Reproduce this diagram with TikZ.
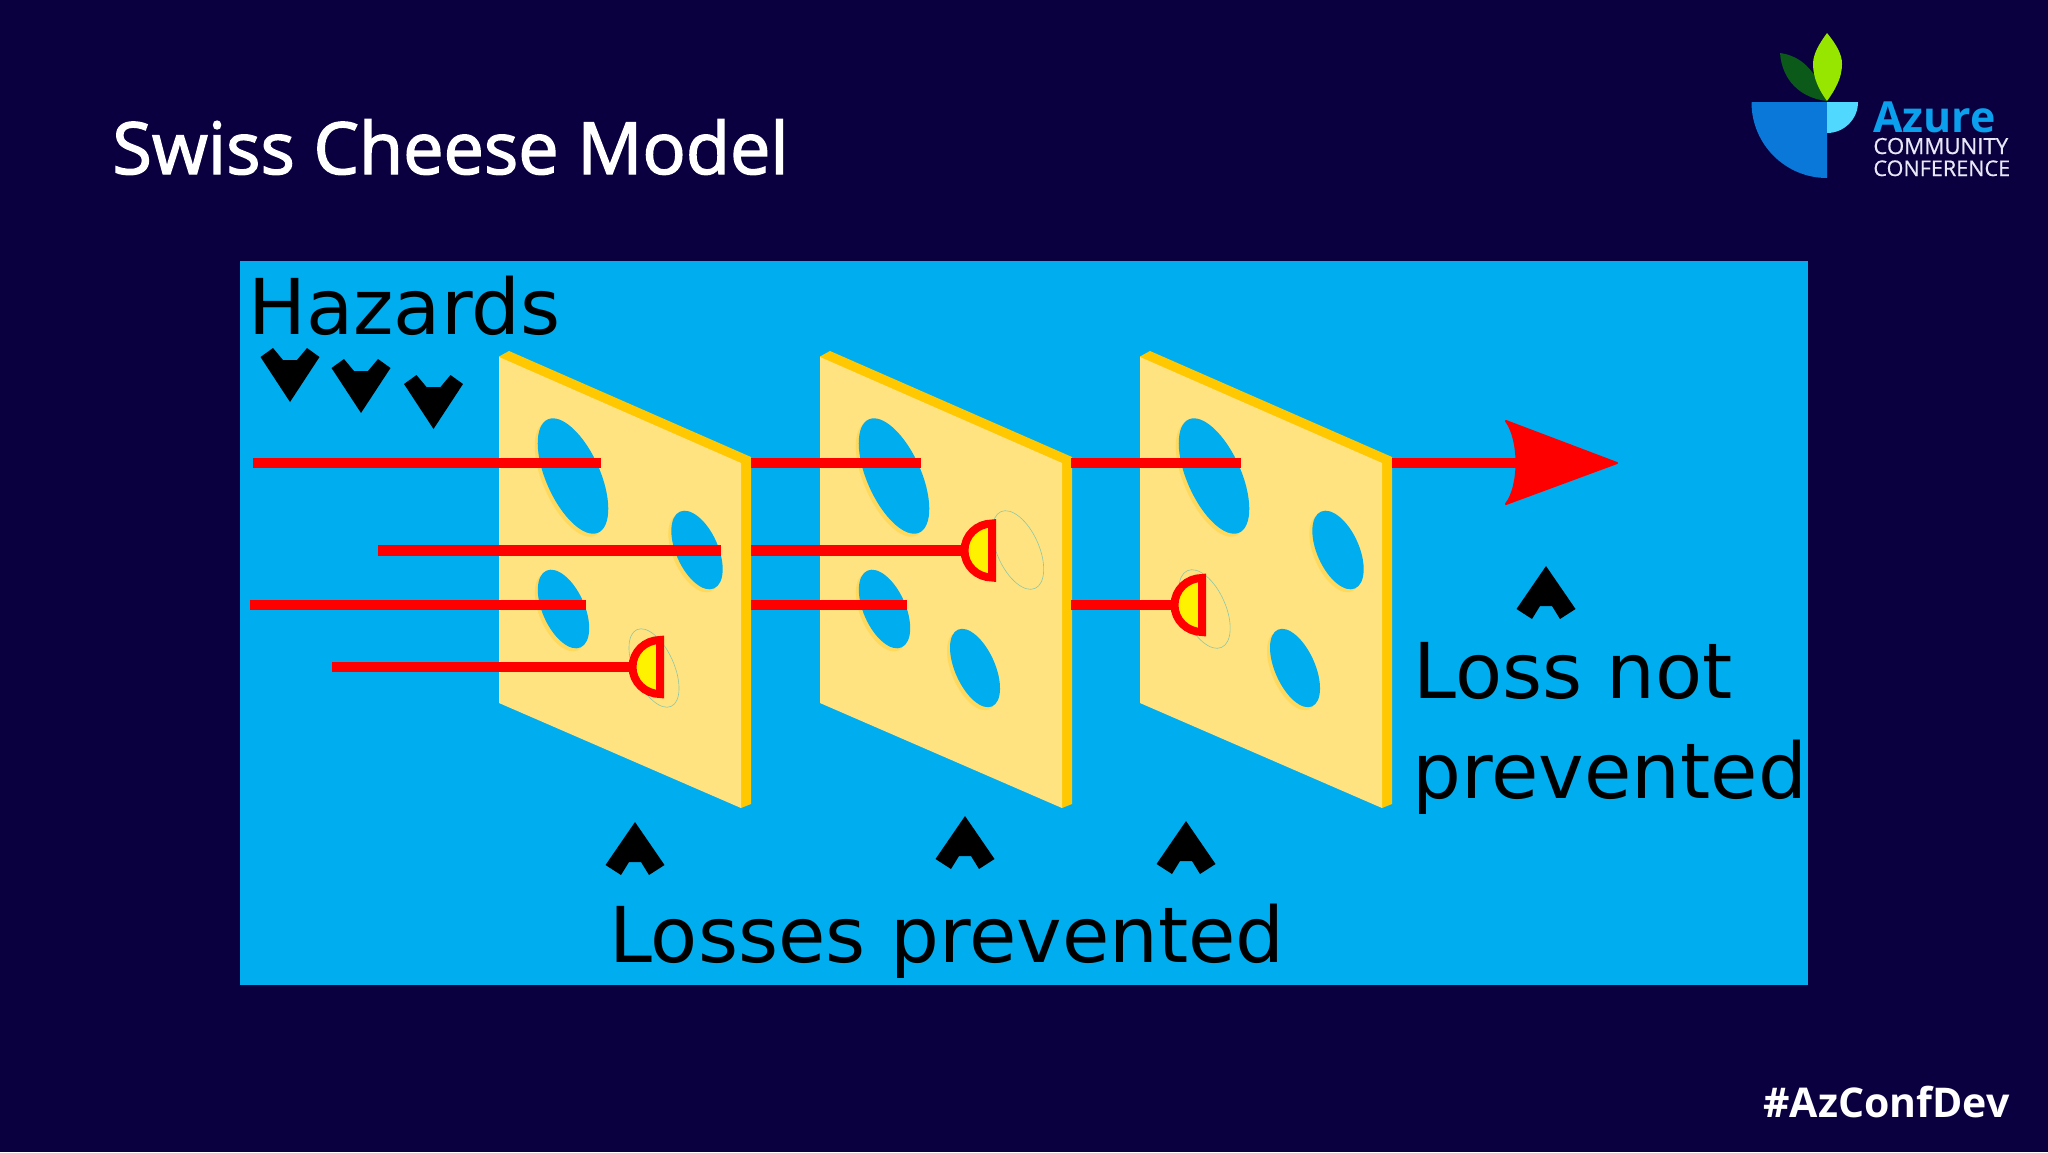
\documentclass[tikz,border=0pt]{standalone}
\usepackage{fontspec}
\setmainfont{DejaVu Sans}
\newfontfamily\titlefont[FakeBold=2]{Open Sans}
\newfontfamily\logofont{Open Sans}
\newfontfamily\logosemi[FakeBold=0.6]{Open Sans}
\definecolor{bgnavy}{HTML}{0A0040}
\definecolor{panelblue}{HTML}{00ADEF}
\definecolor{cheese}{HTML}{FFE381}
\definecolor{rim}{HTML}{FFC800}
\definecolor{holeshade}{HTML}{FFD95C}
\definecolor{ghost}{HTML}{8CC8A8}
\definecolor{leafdark}{HTML}{0B5A1A}
\definecolor{leaflight}{HTML}{96E600}
\definecolor{bowlblue}{HTML}{0A78D8}
\definecolor{bowllight}{HTML}{50D8FF}
\definecolor{azureblue}{HTML}{0AA0EE}
\definecolor{logotext}{HTML}{E8E8F8}
\tikzset{
  x=0.5pt,y=-0.5pt,
  hazardline/.style={draw=red,line width=5.4pt},
  cupshape/.style={draw=red,fill=yellow,line width=4pt,line join=miter},
  bigtext/.style={anchor=base west,inner sep=0pt,font=\fontsize{38.5}{38.5}\selectfont,text=black},
  logotxt/.style={anchor=base west,inner sep=0pt,text=logotext},
}
\newcommand{\cheesehole}[4]{% cx cy a b
  \fill[holeshade,rotate around={24:(#1-3,#2+3)}] (#1-3,#2+3) circle [x radius=#4,y radius=#3];
  \fill[panelblue,rotate around={24:(#1,#2)}] (#1,#2) circle [x radius=#4,y radius=#3];
}
\newcommand{\ghosthole}[4]{%
  \draw[ghost,line width=0.3pt,rotate around={24:(#1,#2)}] (#1,#2) circle [x radius=#4,y radius=#3];
}
\newcommand{\plateshape}{%
  \fill[rim] (499,360) -- (499,356.5) -- (509,351) -- (751,457) -- (751,804) -- (741,808) -- (741,470) -- cycle;
  \fill[cheese] (499,357) -- (741,463) -- (741,808) -- (499,703) -- cycle;
}
\newcommand{\holeA}{\cheesehole{573}{476}{62}{27}}
\newcommand{\holeB}{\cheesehole{697}{550}{42}{21}}
\newcommand{\holeC}{\cheesehole{563.5}{609}{42}{21}}
\newcommand{\holeD}{\cheesehole{654}{668}{42}{20}}
\newcommand{\downmark}[2]{%
  \fill[black,shift={(#1,#2)}] (0,0) -- (-29.5,-45) -- (-17,-54) -- (-7,-42) -- (7,-42) -- (17,-54) -- (29.5,-45) -- cycle;
}
\newcommand{\upmark}[2]{%
  \fill[black,shift={(#1,#2)}] (0,0) -- (-29.5,43) -- (-14,53) -- (-6,40) -- (6,40) -- (14,53) -- (29.5,43) -- cycle;
}
\newcommand{\stopcup}[2]{% flat outer x, y
  \draw[cupshape,shift={(#1-3,#2)}] (0,-27) arc [start angle=270,end angle=90,x radius=27.5,y radius=27] -- cycle;
}
\begin{document}
\begin{tikzpicture}
\useasboundingbox (0,0) rectangle (2048,1152);
\fill[bgnavy] (0,0) rectangle (2048,1152);
\fill[panelblue] (240,261) rectangle (1808,985);

% plate 1
\plateshape \holeA \holeB \holeC
\ghosthole{654}{668}{42}{20}
% plate 2
\begin{scope}[shift={(321,0)}]
\plateshape \holeA \holeC \holeD
\ghosthole{697}{550}{42}{21}
\end{scope}
% plate 3
\begin{scope}[shift={(641,0)}]
\plateshape \holeA \holeB \holeD
\ghosthole{563.5}{609}{42}{21}
\end{scope}

% hazard lines
\draw[hazardline] (253,463) -- (601,463);
\draw[hazardline] (751,463) -- (921,463);
\draw[hazardline] (1071,463) -- (1241,463);
\draw[hazardline] (1392,463) -- (1525,463);
\fill[red,draw=red,line width=1pt,line join=round] (1617,463) -- (1506,421) .. controls (1520,440) and (1520,486) .. (1506,504) -- cycle;

\draw[hazardline] (378,550.5) -- (721,550.5);
\draw[hazardline] (751,550.5) -- (966,550.5);
\stopcup{995}{550.5}

\draw[hazardline] (250,605) -- (586,605);
\draw[hazardline] (751,605) -- (907,605);
\draw[hazardline] (1071,605) -- (1173,605);
\stopcup{1205}{605}

\draw[hazardline] (332,667) -- (633,667);
\stopcup{663}{667}

% markers
\downmark{290}{402}
\downmark{361}{413}
\downmark{433.5}{429}
\upmark{635}{822}
\upmark{965}{816}
\upmark{1186}{821}
\upmark{1546}{566}

% labels
\node[bigtext] (hazards) at (248,334) {Hazards};
\node[bigtext] (losses) at (609,962) {Losses prevented};
\node[bigtext] (lossnot) at (1413,698.5) {Loss not};
\node[bigtext] (prevented) at (1412,798) {prevented};

% title + tag
\node[anchor=base west,inner sep=0pt,text=white,font=\titlefont\fontsize{36}{36}\selectfont] (title) at (112,174) {Swiss Cheese Model};
\node[anchor=base west,inner sep=0pt,text=white,font=\logofont\bfseries\fontsize{20.5}{20.5}\selectfont] (tag) at (1763,1117) {\#AzConfDev};

% logo
\fill[leafdark] (1780,53) .. controls (1800,56) and (1815,68) .. (1827,101) .. controls (1800,98) and (1782,80) .. cycle;
\fill[leaflight] (1827,33) .. controls (1836,44) and (1842,54) .. (1842,64) .. controls (1842,78) and (1835,90) .. (1827,101) .. controls (1819,90) and (1813,78) .. (1813,64) .. controls (1813,54) and (1819,44) .. cycle;
\fill[bowlblue] (1752,102) -- (1827,102) -- (1827,178) arc [start angle=90,end angle=180,radius=75.5] -- cycle;
\fill[bowllight] (1827,102) -- (1858,102) arc [start angle=0,end angle=90,radius=31] -- cycle;
\node[anchor=base west,inner sep=0pt,text=azureblue,font=\logofont\bfseries\fontsize{21.4}{21.4}\selectfont] (azure) at (1873,132) {Azure};
\node[logotxt,font=\logosemi\fontsize{11.1}{11.1}\selectfont] (community) at (1873,154) {COMMUNITY};
\node[logotxt,font=\logosemi\fontsize{10.8}{10.8}\selectfont] (conference) at (1873,176) {CONFERENCE};
\end{tikzpicture}
\end{document}
